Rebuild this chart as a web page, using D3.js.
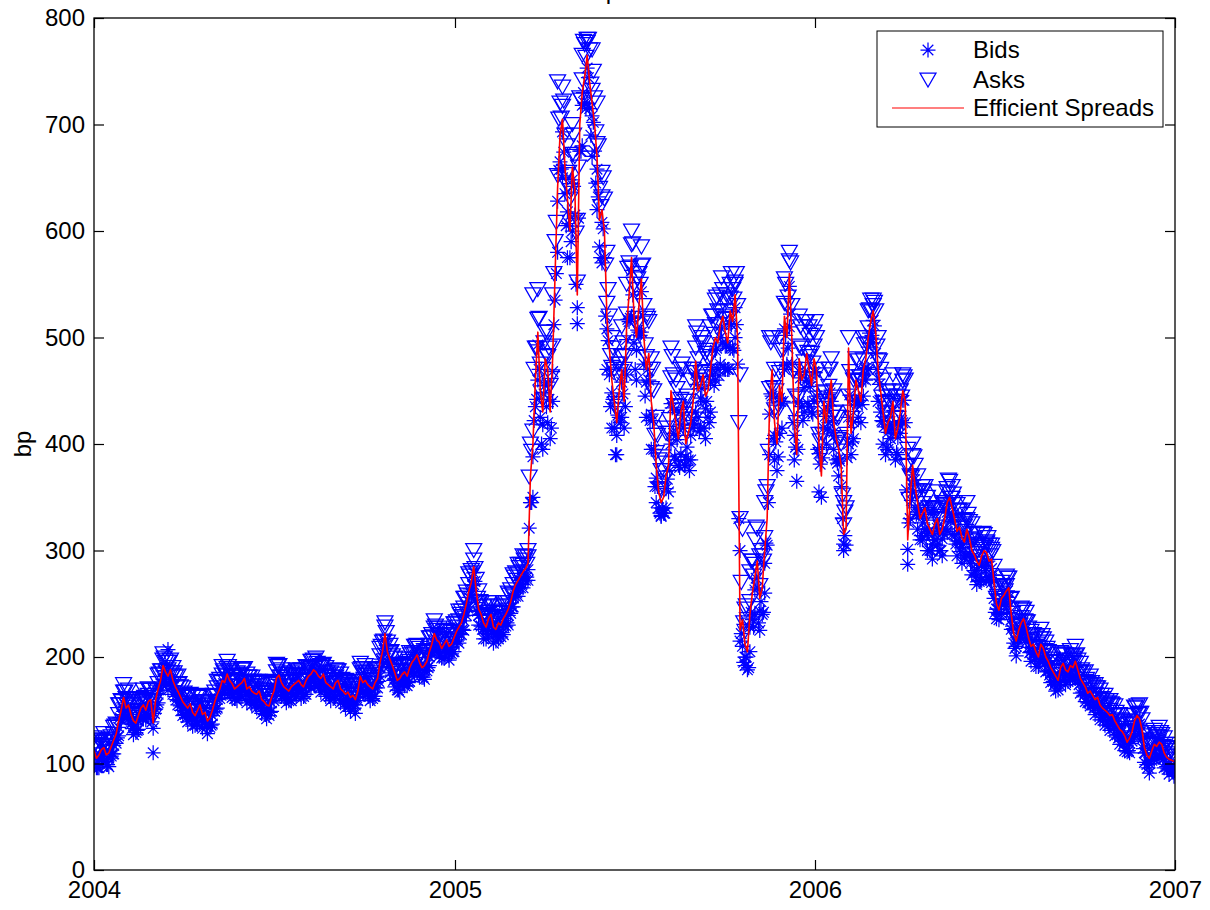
<!DOCTYPE html>
<html><head><meta charset="utf-8">
<script src="https://cdn.jsdelivr.net/npm/d3@7"></script>
<style>
body{margin:0;background:#fff;}
svg{display:block;font-family:"Liberation Sans",Arial,Helvetica,sans-serif;}
</style>
</head><body>
<svg id="chart" width="1210" height="910"></svg>
<script>
// ---- data ----
const startDate = "2004-01-01";   // first observation
const stepDays = 5;               // spacing of the main observations (days)
const q1OffsetHours = 30;         // extra quotes 1.25 days after each observation
const midOffsetHours = 60;        // mid-period observations 2.5 days after
const q3OffsetHours = 90;         // extra quotes 3.75 days after
const titleText = "Spreads";
const yLabel = "bp";
const legendLabels = ["Bids", "Asks", "Efficient Spreads"];
const xTickLabels = ["2004", "2005", "2006", "2007"];
const yTicks = [0, 100, 200, 300, 400, 500, 600, 700, 800];

const spread = [112,108,115,110,122,140,162,155,140,145,
155,158,138,170,192,182,178,168,158,152,
148,150,146,140,150,165,178,184,175,172,
176,170,168,165,160,155,162,180,176,170,
172,176,174,178,184,186,180,176,172,176,
170,165,162,160,182,178,172,176,195,222,
198,185,180,186,190,198,195,192,205,222,
214,212,210,218,228,240,262,285,245,232,
236,228,232,236,245,262,272,280,288,400,
505,430,470,480,640,705,630,660,540,730,
765,720,670,620,520,460,420,470,510,575,
500,555,470,440,380,345,370,450,420,430,
400,420,478,455,445,470,500,512,505,525,
540,225,212,240,275,255,300,440,420,455,
520,560,420,480,465,470,480,400,440,445,
420,395,315,490,430,450,470,500,525,470,
430,420,440,415,450,310,380,345,335,325,
315,330,320,345,340,318,312,320,300,290,
295,298,292,250,255,262,240,215,232,228,
210,205,212,200,190,182,190,188,192,196,
180,172,168,160,155,150,145,140,132,126,
124,140,142,115,105,118,120,110,104,102];

const spreadMid = [105,113,108,116,128,150,152,146,138,152,
150,160,160,178,186,188,172,163,155,156,
145,155,148,143,158,170,176,178,170,174,
180,172,166,168,158,154,168,183,172,168,
174,178,172,182,188,182,184,174,170,178,
168,167,164,168,176,174,170,180,205,205,
192,178,184,182,195,202,190,196,212,216,
208,216,212,224,232,250,270,262,240,228,
240,226,230,240,252,268,276,283,370,460,
450,480,430,560,690,660,600,640,700,745,
740,700,610,600,490,440,450,440,540,520,
530,500,485,420,355,350,380,435,405,440,
410,440,450,465,450,490,495,520,495,515,
500,235,205,260,290,265,330,470,400,440,
500,500,390,460,485,455,470,370,420,460,
405,380,320,410,460,440,480,515,505,450,
410,425,405,430,440,350,360,330,340,320,
325,315,330,350,330,322,308,312,296,286,
300,290,270,244,258,265,222,225,236,218,
212,200,208,196,186,178,194,186,190,188,
176,166,164,162,152,148,146,136,130,120,
130,145,132,108,112,116,118,106,103];

const asksHi = [124,122,128,123,134,155,174,169,153,157,
169,170,158,183,203,195,190,182,171,164,
162,163,158,154,163,177,191,196,189,185,
188,184,181,177,173,169,174,193,188,184,
185,188,188,191,196,199,192,190,185,188,
184,178,174,173,194,192,185,188,208,232,
211,199,193,198,204,210,208,206,218,234,
227,224,224,231,243,255,278,300,262,247,
251,243,247,251,260,277,287,295,300,540,
545,470,505,540,740,735,680,700,610,765,
780,770,720,655,580,500,465,510,550,600,
545,585,520,480,425,375,410,490,460,470,
440,460,510,495,485,510,535,540,535,550,
552,465,245,280,310,295,345,500,470,500,
555,580,470,520,505,510,505,470,465,470,
450,425,345,500,460,478,500,525,535,500,
460,450,465,445,465,395,400,370,360,350,
340,355,345,358,360,343,338,345,325,315,
305,308,305,265,270,276,255,230,246,242,
224,219,226,214,204,196,204,202,206,210,
194,186,182,174,169,164,159,154,146,140,
138,153,155,129,119,131,134,124,118,115];

const asksLo = [117,114,120,116,127,146,167,160,146,150,
160,164,144,175,197,188,183,174,163,157,
154,155,152,145,155,171,183,189,181,177,
181,176,173,170,166,160,167,186,181,176,
177,182,179,184,189,191,186,181,178,181,
176,170,168,165,188,183,178,181,201,228,
204,190,186,191,196,203,201,197,211,227,
220,217,216,223,234,246,268,291,251,238,
242,234,238,242,251,268,278,286,294,412,
517,442,482,492,652,717,642,672,552,742,
777,732,682,632,532,472,432,482,522,587,
512,567,482,452,392,357,382,462,432,442,
412,432,490,467,457,482,512,524,517,537,
550,330,224,252,287,267,312,452,432,467,
532,572,432,492,477,482,492,409,449,454,
429,404,324,445,439,459,479,509,530,479,
439,429,449,424,459,380,389,354,344,334,
324,339,329,354,349,327,321,329,309,299,
304,307,301,255,260,267,245,220,237,233,
215,210,217,205,195,187,195,193,197,201,
185,177,173,165,160,155,150,145,137,131,
129,145,147,120,110,123,125,115,109,107];

const asksMid = [114,122,117,125,137,159,161,155,147,161,
159,169,169,187,195,197,181,172,164,165,
154,164,157,152,167,179,185,187,179,183,
189,181,175,177,167,163,177,192,181,177,
183,187,181,191,197,191,193,183,179,187,
177,176,173,177,185,183,179,189,214,214,
201,187,193,191,204,211,199,205,221,225,
217,225,221,233,243,261,281,273,251,239,
251,237,241,251,263,279,287,294,400,490,
475,505,455,590,720,690,630,670,725,775,
770,725,640,630,520,470,475,470,570,550,
560,530,515,450,385,375,410,465,435,470,
440,470,480,495,480,520,525,545,525,545,
530,320,235,290,320,295,360,500,430,470,
530,530,420,490,515,485,500,390,440,480,
425,400,340,430,480,460,500,535,525,470,
430,445,425,450,460,370,380,350,360,340,
340,330,345,365,345,337,323,327,311,301,
315,305,285,253,267,274,231,234,245,227,
221,209,217,205,195,187,203,195,199,197,
185,175,173,171,161,157,155,145,139,129,
139,154,141,117,121,125,127,115,112];

const asksQ1 = [118,120,121,123,135,155,167,160,149,158,
162,169,159,184,199,195,185,175,166,164,
156,162,157,151,164,177,187,191,182,183,
188,181,177,176,169,164,175,191,184,179,
183,187,183,190,196,194,192,185,181,187,
179,176,173,174,189,186,181,188,210,223,
205,191,192,194,202,210,202,204,218,229,
221,224,221,231,240,255,276,283,252,240,
248,237,241,248,258,275,284,291,369,470,
518,495,490,560,705,722,655,690,660,778,
780,750,680,650,545,490,475,495,565,588,
555,568,518,470,408,388,415,482,452,475,
445,470,504,500,488,520,538,556,540,560,
560,270,248,290,322,300,355,495,450,488,
550,570,445,510,515,502,515,403,448,470,
430,406,336,468,463,463,493,526,533,478,
438,440,440,440,463,348,388,356,356,340,
338,340,343,366,353,338,328,334,316,306,
316,312,299,257,266,274,241,230,244,233,
221,212,220,208,198,190,202,197,201,202,
188,179,176,171,164,159,156,148,141,133,
137,152,147,122,118,127,129,118,114];

const asksQ3 = [108,116,111,121,136,158,155,145,143,155,
156,151,167,187,186,185,172,162,155,154,
149,152,146,148,163,176,182,178,173,177,
177,172,167,166,158,160,176,181,173,172,
177,178,177,185,189,183,182,175,175,176,
168,166,164,177,179,175,175,189,215,203,
190,181,187,188,198,200,193,202,219,217,
212,215,217,228,238,258,279,255,238,234,
236,231,235,244,259,272,280,287,393,490,
448,483,463,608,706,653,638,598,723,763,
738,693,623,568,483,438,468,483,566,518,
550,493,470,408,358,368,423,436,426,428,
423,467,460,463,468,503,512,520,518,536,
420,232,230,276,280,290,393,453,436,488,
538,468,443,470,486,476,443,409,436,444,
404,352,409,424,459,459,494,524,492,444,
419,436,414,444,379,369,356,336,336,322,
332,322,342,349,328,321,318,310,297,294,
303,295,264,252,262,254,220,230,234,216,
210,208,206,195,186,186,193,191,195,186,
176,169,164,160,153,148,145,136,130,124,
137,146,126,108,117,120,116,107,104];

const bidsHi = [107,104,110,105,117,134,157,150,135,140,
150,153,133,165,187,207,173,163,153,147,
143,145,141,135,145,160,173,179,170,167,
171,165,163,160,155,150,157,175,171,165,
167,171,169,173,179,181,175,171,167,171,
165,160,157,155,177,173,167,171,190,216,
193,180,175,181,185,193,190,187,200,216,
209,207,205,213,222,234,256,279,239,226,
230,222,226,230,239,256,266,274,282,388,
493,418,458,468,628,693,618,648,528,718,
753,708,658,608,508,448,408,458,498,563,
488,543,458,428,368,333,358,438,408,418,
388,408,466,443,433,458,488,500,493,513,
528,300,200,228,263,243,288,428,408,443,
508,548,408,468,453,458,468,391,431,436,
411,386,306,425,421,441,461,491,516,461,
421,411,431,406,441,301,371,336,326,316,
306,321,311,336,331,309,303,311,291,281,
286,289,283,245,250,257,235,210,227,223,
205,200,207,195,185,177,185,183,187,191,
175,167,163,155,150,145,140,135,127,121,
119,135,137,110,100,113,115,105,99,97];

const bidsLo = [99,96,102,97,109,126,149,142,127,132,
142,145,110,157,179,169,165,155,145,139,
135,137,133,128,137,152,165,171,162,159,
163,157,155,152,147,142,149,167,163,157,
159,163,161,165,171,173,167,163,159,163,
157,152,149,147,169,165,159,163,182,208,
185,172,167,173,177,185,182,179,192,208,
201,199,197,205,213,225,247,268,230,217,
221,213,217,221,230,247,257,265,272,350,
460,395,420,440,580,650,575,600,513,680,
720,670,620,570,470,415,390,425,465,520,
460,505,425,395,345,332,340,400,385,390,
380,385,430,415,405,430,460,475,470,490,
500,215,192,205,240,225,260,390,385,410,
470,510,385,440,430,435,440,355,415,420,
395,370,300,400,405,425,445,470,495,440,
400,395,410,390,420,287,355,320,310,300,
292,305,295,318,315,295,288,295,277,268,
272,275,270,236,241,248,226,201,218,214,
196,191,198,186,176,168,176,174,178,182,
166,158,154,146,141,136,131,126,118,112,
110,126,128,101,91,104,106,96,90,88];

const bidsMid = [96,104,99,107,119,141,143,137,129,143,
141,151,151,169,177,179,163,154,146,147,
136,146,139,134,149,161,167,169,161,165,
171,163,157,159,149,145,159,174,163,159,
165,169,163,173,179,173,175,165,161,169,
159,158,155,159,167,165,161,171,196,196,
183,169,175,173,186,193,181,187,203,207,
199,207,203,215,221,239,259,251,229,217,
229,215,219,229,241,257,265,272,345,435,
425,455,405,535,665,635,575,615,675,720,
715,675,585,575,465,415,425,415,515,495,
505,475,460,395,340,335,355,410,380,415,
385,415,425,440,425,465,470,495,470,490,
475,210,188,235,265,240,305,445,375,415,
475,475,365,435,460,430,445,350,400,440,
385,360,305,390,440,420,460,495,485,430,
390,405,385,410,420,330,340,310,320,300,
310,300,315,335,315,307,293,297,281,271,
285,275,255,235,249,256,213,216,227,209,
203,191,199,187,177,169,185,177,181,179,
167,157,155,153,143,139,137,127,121,111,
121,136,123,99,103,107,109,97,94];

const bidsQ1 = [106,108,109,111,123,143,155,148,137,146,
150,157,147,172,187,183,173,163,154,152,
144,150,145,139,152,165,175,179,170,171,
176,169,165,164,157,152,163,179,172,167,
171,175,171,178,184,182,180,173,169,175,
167,164,161,162,177,174,169,176,198,211,
193,179,180,182,190,198,190,192,206,217,
209,212,209,219,228,243,264,271,240,228,
236,225,229,236,246,263,272,279,321,422,
470,447,442,512,657,674,607,642,612,730,
744,702,632,602,497,442,427,447,517,540,
507,520,470,422,360,340,367,434,404,427,
397,422,456,452,440,472,490,508,492,512,
512,222,200,242,274,252,307,447,402,440,
502,522,397,462,467,454,467,381,426,448,
408,384,314,446,441,441,471,504,511,456,
416,418,418,418,441,326,366,334,334,318,
316,318,321,344,331,316,306,312,294,284,
294,290,277,245,254,262,229,218,232,221,
209,200,208,196,186,178,190,185,189,190,
176,167,164,159,152,147,144,136,129,121,
125,140,135,110,106,115,117,106,102];

const bidsQ3 = [96,104,99,109,124,146,143,133,131,143,
144,139,155,175,174,173,160,150,143,142,
137,140,134,136,151,164,170,166,161,165,
165,160,155,154,146,148,164,169,161,160,
165,166,165,173,177,171,170,163,163,164,
156,154,152,165,167,163,163,177,203,191,
178,169,175,176,186,188,181,190,207,205,
200,203,205,216,226,246,267,243,226,222,
224,219,223,232,247,260,268,275,345,442,
400,435,415,560,658,605,590,550,675,715,
690,645,575,520,435,390,420,435,518,470,
502,445,422,360,335,335,375,388,378,380,
375,419,412,415,420,455,464,472,470,488,
330,195,190,228,232,242,345,405,388,440,
490,420,395,422,438,428,395,387,414,422,
382,330,387,402,437,437,472,502,470,422,
397,414,392,422,357,347,334,314,314,300,
310,300,320,327,306,299,296,288,275,272,
281,273,242,240,250,242,208,218,222,204,
198,196,194,183,174,174,181,179,183,174,
164,157,152,148,141,136,133,124,118,112,
125,134,114,96,105,108,104,95,92];

// ---- layout ----
const L = 94, R = 1175, T = 18, B = 870;
const FONT = 24;
const blue = "#0000ff", red = "#ff0000";

const svg = d3.select("#chart");
const t0 = d3.timeParse("%Y-%m-%d")(startDate);
const dates = spread.map((_, i) => d3.timeDay.offset(t0, i * stepDays));
const offsetDates = h => spreadMid.map((_, i) => d3.timeHour.offset(t0, i * stepDays * 24 + h));
const midDates = offsetDates(midOffsetHours);
const q1Dates = offsetDates(q1OffsetHours);
const q3Dates = offsetDates(q3OffsetHours);
const xTickDates = xTickLabels.map(s => d3.timeParse("%Y")(s));

const x = d3.scaleTime().domain([xTickDates[0], xTickDates[xTickDates.length - 1]]).range([L, R]);
const y = d3.scaleLinear().domain([0, 800]).range([B, T]);

svg.append("rect").attr("width", 1210).attr("height", 910).attr("fill", "#fff");

svg.append("defs").append("clipPath").attr("id", "clip")
  .append("rect").attr("x", L).attr("y", T).attr("width", R - L).attr("height", B - T);

const plot = svg.append("g").attr("clip-path", "url(#clip)");

const starPath = "M-7.5,0H7.5M0,-7.5V7.5M-5.3,-5.3L5.3,5.3M-5.3,5.3L5.3,-5.3";
const triPath = "M-8,-7H8L0,7Z";
const MSW = 1.25;

function drawMarkers(vals, dts, path, cls) {
  plot.append("g").attr("class", cls)
    .selectAll("path").data(vals).join("path")
    .attr("d", path)
    .attr("transform", (d, i) => `translate(${x(dts[i])},${y(d)})`)
    .attr("fill", "none").attr("stroke", blue).attr("stroke-width", MSW);
}
drawMarkers(bidsLo, dates, starPath, "bids");
drawMarkers(bidsQ3, q3Dates, starPath, "bids");
drawMarkers(bidsHi, dates, starPath, "bids");
drawMarkers(bidsMid, midDates, starPath, "bids");
drawMarkers(bidsQ1, q1Dates, starPath, "bids");
drawMarkers(asksHi, dates, triPath, "asks");
drawMarkers(asksQ1, q1Dates, triPath, "asks");
drawMarkers(asksLo, dates, triPath, "asks");
drawMarkers(asksMid, midDates, triPath, "asks");
drawMarkers(asksQ3, q3Dates, triPath, "asks");

const lineData = d3.sort(
  spread.map((v, i) => [dates[i], v]).concat(spreadMid.map((v, i) => [midDates[i], v])),
  d => d[0]);

plot.append("path")
  .datum(lineData)
  .attr("fill", "none").attr("stroke", red).attr("stroke-width", 1.6)
  .attr("stroke-linejoin", "round")
  .attr("d", d3.line().x(d => x(d[0])).y(d => y(d[1])));

// ---- axes (MATLAB style, inward ticks, box) ----
const fmtYear = d3.timeFormat("%Y");
const gx = svg.append("g").attr("transform", `translate(0,${B})`)
  .call(d3.axisBottom(x).tickValues(xTickDates).tickFormat(fmtYear).tickSize(-10).tickSizeOuter(0).tickPadding(11));
const gy = svg.append("g").attr("transform", `translate(${L},0)`)
  .call(d3.axisLeft(y).tickValues(yTicks).tickSize(-10).tickSizeOuter(0).tickPadding(9));
const gxt = svg.append("g").attr("transform", `translate(0,${T})`)
  .call(d3.axisTop(x).tickValues(xTickDates).tickFormat("").tickSize(-10).tickSizeOuter(0));
const gyr = svg.append("g").attr("transform", `translate(${R},0)`)
  .call(d3.axisRight(y).tickValues(yTicks).tickFormat("").tickSize(-10).tickSizeOuter(0));

[gx, gy, gxt, gyr].forEach(g => {
  g.select(".domain").remove();
  g.selectAll(".tick line").attr("stroke", "#000").attr("stroke-width", 1.2);
  g.selectAll("text").attr("fill", "#000").style("font-size", FONT + "px")
    .style("font-family", '"Liberation Sans", Arial, sans-serif');
});

svg.append("rect").attr("x", L).attr("y", T).attr("width", R - L).attr("height", B - T)
  .attr("fill", "none").attr("stroke", "#000").attr("stroke-width", 1.3);

// y label
svg.append("text").attr("transform", `translate(31,${(T + B) / 2}) rotate(-90)`)
  .attr("text-anchor", "middle").style("font-size", FONT + "px").attr("fill", "#000").text(yLabel);

// title (sits above the visible area, only its descender shows, as in the reference)
svg.append("text").attr("x", (L + R) / 2).attr("y", -1).attr("text-anchor", "middle")
  .style("font-size", FONT + "px").attr("fill", "#000").text(titleText);

// ---- legend ----
const lg = svg.append("g");
lg.append("rect").attr("x", 877).attr("y", 31).attr("width", 286).attr("height", 96)
  .attr("fill", "#fff").attr("stroke", "#000").attr("stroke-width", 1);
const rowsY = [50, 80, 108];
lg.append("path").attr("d", starPath).attr("transform", `translate(928,${rowsY[0]})`)
  .attr("fill", "none").attr("stroke", blue).attr("stroke-width", MSW);
lg.append("path").attr("d", triPath).attr("transform", `translate(928,${rowsY[1]})`)
  .attr("fill", "none").attr("stroke", blue).attr("stroke-width", MSW);
lg.append("line").attr("x1", 892).attr("x2", 964).attr("y1", rowsY[2]).attr("y2", rowsY[2])
  .attr("stroke", red).attr("stroke-width", 1.2);
legendLabels.forEach((t, i) => {
  lg.append("text").attr("x", 973).attr("y", rowsY[i]).attr("dy", "0.35em")
    .style("font-size", FONT + "px").attr("fill", "#000").text(t);
});
</script>
</body></html>
